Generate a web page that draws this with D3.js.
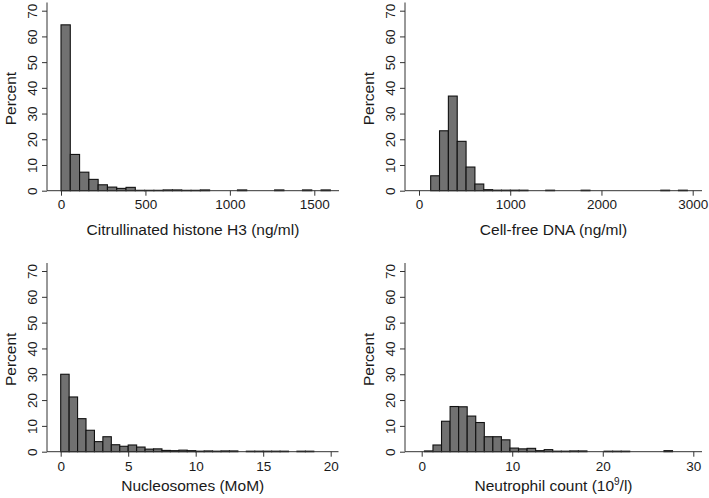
<!DOCTYPE html>
<html>
<head>
<meta charset="utf-8">
<script src="https://cdn.jsdelivr.net/npm/d3@7"></script>
<style>
  html, body { margin: 0; padding: 0; background: #ffffff; }
  svg { display: block; }
  text { font-family: "Liberation Sans", Arial, Helvetica, sans-serif; fill: #1a1a1a; }
</style>
</head>
<body>
<svg id="chart" width="709" height="498"></svg>
<script>
// ---------------- DATA ----------------
const yTicks = [0, 10, 20, 30, 40, 50, 60, 70];

// Citrullinated histone H3 (ng/ml)
const h3Start = 0, h3Width = 55;
const h3Percent = [64.5, 14.1, 7.2, 4.4, 2.3, 1.4, 0.9, 1.3, 0.15, 0.15, 0.15, 0.3, 0.3, 0.15, 0.15, 0.3,
                   0, 0, 0, 0.3, 0, 0, 0, 0.3, 0, 0, 0.3, 0, 0.3];
const h3Ticks = [0, 500, 1000, 1500];
const h3Title = "Citrullinated histone H3 (ng/ml)";

// Cell-free DNA (ng/ml)
const cfStart = 128, cfWidth = 97;
const cfPercent = [5.8, 23.3, 36.8, 19.2, 9.2, 2.6, 0.4, 0.2, 0.2, 0.2, 0.2, 0, 0, 0.2, 0,
                   0, 0, 0.2, 0, 0, 0, 0, 0, 0, 0, 0, 0.2, 0, 0.2];
const cfTicks = [0, 1000, 2000, 3000];
const cfTitle = "Cell-free DNA (ng/ml)";

// Nucleosomes (MoM)
const nucStart = 0, nucWidth = 0.625;
const nucPercent = [30.0, 21.2, 12.8, 8.3, 3.9, 5.8, 2.7, 2.1, 2.6, 1.8, 1.0, 1.1, 0.5, 0.4, 0.6,
                    0.4, 0.2, 0.3, 0.2, 0.3, 0.3, 0, 0.2, 0.2, 0.2, 0.2, 0.2, 0, 0.2, 0.2];
const nucTicks = [0, 5, 10, 15, 20];
const nucTitle = "Nucleosomes (MoM)";

// Neutrophil count (10^9/l)
const neuStart = 0.3, neuWidth = 0.945;
const neuPercent = [0.3, 2.6, 11.8, 17.5, 17.4, 13.8, 11.3, 5.8, 5.8, 4.6, 1.4, 1.1, 1.3, 0.4, 0.8,
                    0.2, 0.2, 0.3, 0.3, 0, 0, 0.2, 0.2, 0.2, 0, 0, 0, 0, 0.4];
const neuTicks = [0, 10, 20, 30];
const neuTitleMain = "Neutrophil count (10";
const neuTitleSup = "9";
const neuTitleEnd = "/l)";

// ---------------- LAYOUT ----------------
const svg = d3.select("#chart");

const panels = [
  { start: h3Start, width: h3Width, values: h3Percent, ticks: h3Ticks, title: [h3Title],
    axisX: 47, x0: 61, x1: 314.3, axisEnd: 339, yBase: 190.7, y70: 10.7, axisTop: 2.5, tickBase: 209, titleBase: 234.5 },
  { start: cfStart, width: cfWidth, values: cfPercent, ticks: cfTicks, title: [cfTitle],
    axisX: 405, x0: 419, x1: 692.7, axisEnd: 702, yBase: 190.7, y70: 10.7, axisTop: 2.5, tickBase: 209, titleBase: 234.5 },
  { start: nucStart, width: nucWidth, values: nucPercent, ticks: nucTicks, title: [nucTitle],
    axisX: 47, x0: 60.7, x1: 330.7, axisEnd: 338.5, yBase: 451.7, y70: 271, axisTop: 263, tickBase: 471.5, titleBase: 491 },
  { start: neuStart, width: neuWidth, values: neuPercent, ticks: neuTicks, title: [neuTitleMain, neuTitleSup, neuTitleEnd],
    axisX: 405, x0: 421.7, x1: 693.3, axisEnd: 702, yBase: 451.7, y70: 271, axisTop: 263, tickBase: 471.5, titleBase: 491 }
];

panels.forEach(p => {
  const g = svg.append("g");
  const tMax = p.ticks[p.ticks.length - 1];
  const x = d3.scaleLinear().domain([0, tMax]).range([p.x0, p.x1]);
  const y = d3.scaleLinear().domain([0, 70]).range([p.yBase, p.y70]);

  const bins = p.values.map((v, i) => ({ x0: p.start + i * p.width, x1: p.start + (i + 1) * p.width, v }))
                       .filter(d => d.v > 0);

  // bars
  g.selectAll("rect.bar").data(bins).join("rect")
    .attr("class", "bar")
    .attr("x", d => x(d.x0))
    .attr("width", d => x(d.x1) - x(d.x0))
    .attr("y", d => y(d.v))
    .attr("height", d => y(0) - y(d.v))
    .attr("fill", "#717171")
    .attr("stroke", "#111")
    .attr("stroke-width", 1.1);

  // x axis
  const xAxisG = g.append("g").attr("transform", `translate(0,${p.yBase})`);
  xAxisG.append("line")
    .attr("x1", p.axisX).attr("x2", p.axisEnd).attr("y1", 0).attr("y2", 0)
    .attr("stroke", "#333").attr("stroke-width", 1);
  const xAx = d3.axisBottom(x).tickValues(p.ticks).tickSize(5).tickPadding(4).tickFormat(d3.format("d"));
  const xa = xAxisG.append("g").call(xAx);
  xa.select(".domain").remove();
  xa.selectAll(".tick line").attr("stroke", "#333");
  xa.selectAll(".tick text")
    .attr("y", p.tickBase - p.yBase).attr("dy", null)
    .style("font-size", "13.5px").style("fill", "#1a1a1a");

  // y axis
  const yAxisG = g.append("g").attr("transform", `translate(${p.axisX},0)`);
  yAxisG.append("line")
    .attr("x1", 0).attr("x2", 0).attr("y1", p.axisTop).attr("y2", p.yBase)
    .attr("stroke", "#333").attr("stroke-width", 1);
  const yAx = d3.axisLeft(y).tickValues(yTicks).tickSize(5).tickFormat(d3.format("d"));
  const ya = yAxisG.append("g").call(yAx);
  ya.select(".domain").remove();
  ya.selectAll(".tick line").attr("stroke", "#333");
  ya.selectAll(".tick text")
    .attr("x", null).attr("dy", null)
    .attr("text-anchor", "middle")
    .attr("transform", "translate(-10,0) rotate(-90)")
    .style("font-size", "13.5px").style("fill", "#1a1a1a");

  // y title
  g.append("text")
    .attr("transform", `translate(${p.axisX - 31.5},${(p.axisTop + p.yBase) / 2 + 2}) rotate(-90)`)
    .attr("text-anchor", "middle")
    .style("font-size", "15.5px")
    .text("Percent");

  // x title
  const t = g.append("text")
    .attr("x", (p.axisX + p.axisEnd) / 2)
    .attr("y", p.titleBase)
    .attr("text-anchor", "middle")
    .style("font-size", "15.5px");
  if (p.title.length === 1) {
    t.text(p.title[0]);
  } else {
    t.append("tspan").text(p.title[0]);
    t.append("tspan").attr("dy", -6).style("font-size", "10px").text(p.title[1]);
    t.append("tspan").attr("dy", 6).text(p.title[2]);
  }
});
</script>
</body>
</html>
